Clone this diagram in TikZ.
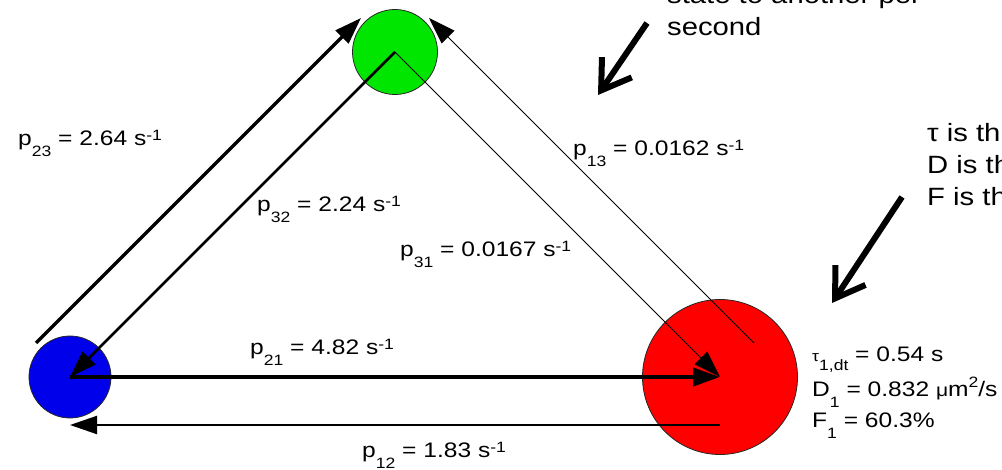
\documentclass[tikz,border=0pt]{standalone}
\usepackage{fontspec}
\setmainfont{Liberation Sans}[FakeStretch=1.17]
\usetikzlibrary{arrows.meta,calc}
\newcommand{\sbx}[2][11]{\raisebox{-#1pt}{\fontsize{15}{15}\selectfont #2}}
\newcommand{\spx}[2][5]{\raisebox{#1pt}{\fontsize{15}{15}\selectfont #2}}
\definecolor{stgreen}{RGB}{0,230,0}
\definecolor{stblue}{RGB}{0,0,235}
\definecolor{stred}{RGB}{255,0,0}
\begin{document}
\begin{tikzpicture}[x=1pt,y=-1pt,
  state/.style={circle,draw=black!85,line width=0.8pt,inner sep=0pt},
  lbl/.style={anchor=base west,inner sep=0pt,font=\fontsize{21}{25}\selectfont},
  note/.style={anchor=base west,inner sep=0pt,font=\fontsize{25}{30}\selectfont},
  info/.style={anchor=base west,inner sep=0pt,font=\fontsize{21}{25}\selectfont},
  tip/.style={-{Triangle[length=27pt,width=18pt]}},
  bigarrow/.style={line width=6pt,-{Straight Barb[length=28pt,width=36pt]}}
]
\useasboundingbox (0,0) rectangle (1002,470);
\fill[white] (0,0) rectangle (1002,470);
\clip (0,0) rectangle (1002,470);
\node[state,fill=stgreen,minimum size=85pt] (s3) at (395,52) {};
\node[state,fill=stblue,minimum size=82pt] (s1) at (70,377) {};
\node[state,fill=stred,minimum size=155pt] (s2) at (720,377) {};

\draw[tip,line width=4.5pt] (s1.center) -- (s2.center);
\draw[tip,line width=2pt] ($(s2.center)+(0,48)$) -- ($(s1.center)+(0,48)$);
\draw[tip,line width=3.2pt] ($(s1.center)+(-34,-34)$) -- ($(s3.center)+(-34,-34)$);
\draw[tip,line width=2.5pt] (s3.center) -- (s1.center);
\draw[tip,line width=0.8pt] ($(s2.center)+(34,-34)$) -- ($(s3.center)+(34,-34)$);
\draw[tip,line width=0.8pt] (s3.center) -- (s2.center);

\node[lbl] (l23) at (18,146) {p\sbx{23} = 2.64 s\spx{-1}};
\node[lbl] (l32) at (257,212) {p\sbx{32} = 2.24 s\spx{-1}};
\node[lbl] (l31) at (400,257) {p\sbx{31} = 0.0167 s\spx{-1}};
\node[lbl] (l13) at (573,156) {p\sbx{13} = 0.0162 s\spx{-1}};
\node[lbl] (l21) at (250,355) {p\sbx{21} = 4.82 s\spx{-1}};
\node[lbl] (l12) at (362,457) {p\sbx{12} = 1.83 s\spx{-1}};

\node[info] (i1) at (812,362) {{\fontsize{15}{15}\selectfont τ}\sbx[9]{1,dt} = 0.54 s};
\node[info] (i2) at (812,396) {D\sbx{1} = 0.832 {\fontsize{18}{18}\selectfont μ}m\spx[9]{2}/s};
\node[info] (i3) at (812,428) {F\sbx{1} = 60.3\%};

\node[note] (n1) at (667,4) {state to another per};
\node[note] (n2) at (667,36) {second};
\node[note] (n3) at (927,142) {τ is th};
\node[note] (n4) at (927,174) {D is th};
\node[note] (n5) at (927,206) {F is th};

\coordinate (b1s) at (647,23);
\coordinate (b1e) at (598,95);
\draw[bigarrow] (b1s) -- (b1e);
\coordinate (b2s) at (902,197);
\coordinate (b2e) at (832,303);
\draw[bigarrow] (b2s) -- (b2e);
\end{tikzpicture}
\end{document}
